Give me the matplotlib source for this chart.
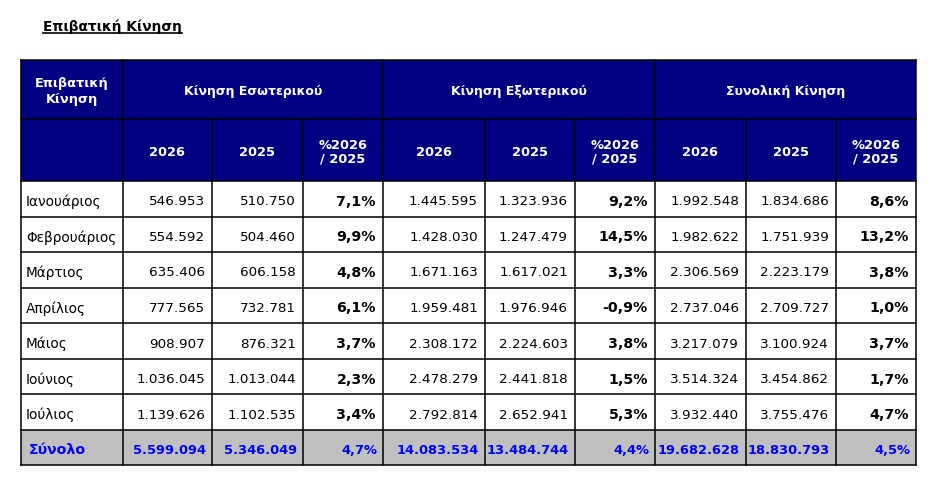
"""Passenger traffic table (Επιβατική Κίνηση) drawn with matplotlib."""

import matplotlib

matplotlib.use("Agg")
import matplotlib.pyplot as plt
from matplotlib.patches import Rectangle

plt.rcParams["font.family"] = ["DejaVu Sans"]

TITLE = "Επιβατική Κίνηση"
CORNER_LABEL = "Επιβατική\nΚίνηση"
GROUPS = ["Κίνηση Εσωτερικού", "Κίνηση Εξωτερικού", "Συνολική Κίνηση"]
SUB_HEADERS = ["2026", "2025", "%2026\n/ 2025"]
TOTAL_LABEL = "Σύνολο"

months = [
    "Ιανουάριος", "Φεβρουάριος", "Μάρτιος", "Απρίλιος",
    "Μάιος", "Ιούνιος", "Ιούλιος",
]
domestic_2026 = [546953, 554592, 635406, 777565, 908907, 1036045, 1139626]
domestic_2025 = [510750, 504460, 606158, 732781, 876321, 1013044, 1102535]
domestic_pct = [7.1, 9.9, 4.8, 6.1, 3.7, 2.3, 3.4]
intl_2026 = [1445595, 1428030, 1671163, 1959481, 2308172, 2478279, 2792814]
intl_2025 = [1323936, 1247479, 1617021, 1976946, 2224603, 2441818, 2652941]
intl_pct = [9.2, 14.5, 3.3, -0.9, 3.8, 1.5, 5.3]
total_2026 = [1992548, 1982622, 2306569, 2737046, 3217079, 3514324, 3932440]
total_2025 = [1834686, 1751939, 2223179, 2709727, 3100924, 3454862, 3755476]
total_pct = [8.6, 13.2, 3.8, 1.0, 3.7, 1.7, 4.7]
sum_row = [5599094, 5346049, 4.7, 14083534, 13484744, 4.4, 19682628, 18830793, 4.5]

NAVY = "#000080"
GREY = "#C0C0C0"
BLUE = "#0000FF"

# layout in pixels
COL_EDGES = [21, 123, 212, 303, 383, 485, 575, 655, 746, 836, 916]
HEAD_TOP, HEAD_MID, HEAD_BOT = 61, 120, 182
ROWS_BOT = 431
TABLE_BOT = 466


def fmt_int(value):
    return f"{value:,}".replace(",", ".")


def fmt_pct(value):
    return f"{value:.1f}%".replace(".", ",")


def main():
    fig = plt.figure(figsize=(9.37, 4.89), dpi=100)
    ax = fig.add_axes([0, 0, 1, 1])
    ax.set_xlim(0, 937)
    ax.set_ylim(489, 0)
    ax.axis("off")

    left, right = COL_EDGES[0], COL_EDGES[-1]
    row_h = (ROWS_BOT - HEAD_BOT) / len(months)
    row_edges = [HEAD_BOT + i * row_h for i in range(len(months) + 1)]

    # backgrounds
    ax.add_patch(Rectangle((left, HEAD_TOP), right - left, HEAD_BOT - HEAD_TOP,
                           facecolor=NAVY, edgecolor="none"))
    ax.add_patch(Rectangle((left, ROWS_BOT), right - left, TABLE_BOT - ROWS_BOT,
                           facecolor=GREY, edgecolor="none"))

    line_kw = dict(color="black", linewidth=1.1, solid_capstyle="projecting")
    # horizontal lines
    for y in [HEAD_TOP, HEAD_MID, HEAD_BOT] + row_edges[1:] + [TABLE_BOT]:
        ax.plot([left, right], [y, y], **line_kw)
    # vertical lines
    group_edges = [COL_EDGES[0], COL_EDGES[1], COL_EDGES[4], COL_EDGES[7], COL_EDGES[10]]
    for x in COL_EDGES:
        top = HEAD_TOP if x in group_edges else HEAD_MID
        ax.plot([x, x], [top, TABLE_BOT], **line_kw)

    # title
    title = ax.text(43, 27, TITLE, fontsize=9.9, fontweight="bold",
                    ha="left", va="center")
    fig.canvas.draw()
    bb = title.get_window_extent(fig.canvas.get_renderer())
    inv = ax.transData.inverted()
    (x0, _), (x1, _) = inv.transform([(bb.x0, bb.y0), (bb.x1, bb.y1)])
    ax.plot([x0, x1], [34, 34], color="black", linewidth=1.2)

    # header texts
    head_kw = dict(color="white", fontweight="bold", ha="center", va="center")
    ax.text((COL_EDGES[0] + COL_EDGES[1]) / 2, (HEAD_TOP + HEAD_MID) / 2 + 1,
            CORNER_LABEL, fontsize=9.3, linespacing=1.2, **head_kw)
    for g, name in enumerate(GROUPS):
        x_mid = (group_edges[g + 1] + group_edges[g + 2]) / 2
        ax.text(x_mid, (HEAD_TOP + HEAD_MID) / 2 + 1.5, name, fontsize=9,
                **head_kw)
    for c in range(9):
        x_mid = (COL_EDGES[c + 1] + COL_EDGES[c + 2]) / 2
        ax.text(x_mid, (HEAD_MID + HEAD_BOT) / 2 + 1, SUB_HEADERS[c % 3],
                fontsize=9.4, linespacing=1.05, **head_kw)

    # body
    columns = [domestic_2026, domestic_2025, domestic_pct,
               intl_2026, intl_2025, intl_pct,
               total_2026, total_2025, total_pct]
    for r, month in enumerate(months):
        y_mid = (row_edges[r] + row_edges[r + 1]) / 2 + 2
        ax.text(COL_EDGES[0] + 5, y_mid, month, fontsize=9.8,
                ha="left", va="center")
        for c, values in enumerate(columns):
            x_right = COL_EDGES[c + 2] - 7
            if c % 3 == 2:
                ax.text(x_right, y_mid, fmt_pct(values[r]), fontsize=10.2,
                        fontweight="bold", ha="right", va="center")
            else:
                ax.text(x_right, y_mid, fmt_int(values[r]), fontsize=9.7,
                        ha="right", va="center")

    # totals row
    y_mid = (ROWS_BOT + TABLE_BOT) / 2 + 1.5
    ax.text(COL_EDGES[0] + 8, y_mid, TOTAL_LABEL, fontsize=10.2, color=BLUE,
            fontweight="bold", ha="left", va="center")
    for c, value in enumerate(sum_row):
        text = fmt_pct(value) if c % 3 == 2 else fmt_int(value)
        ax.text(COL_EDGES[c + 2] - 6, y_mid, text, fontsize=9.4, color=BLUE,
                fontweight="bold", ha="right", va="center")

    fig.savefig("out.png", dpi=100)
    plt.close(fig)


if __name__ == "__main__":
    main()
